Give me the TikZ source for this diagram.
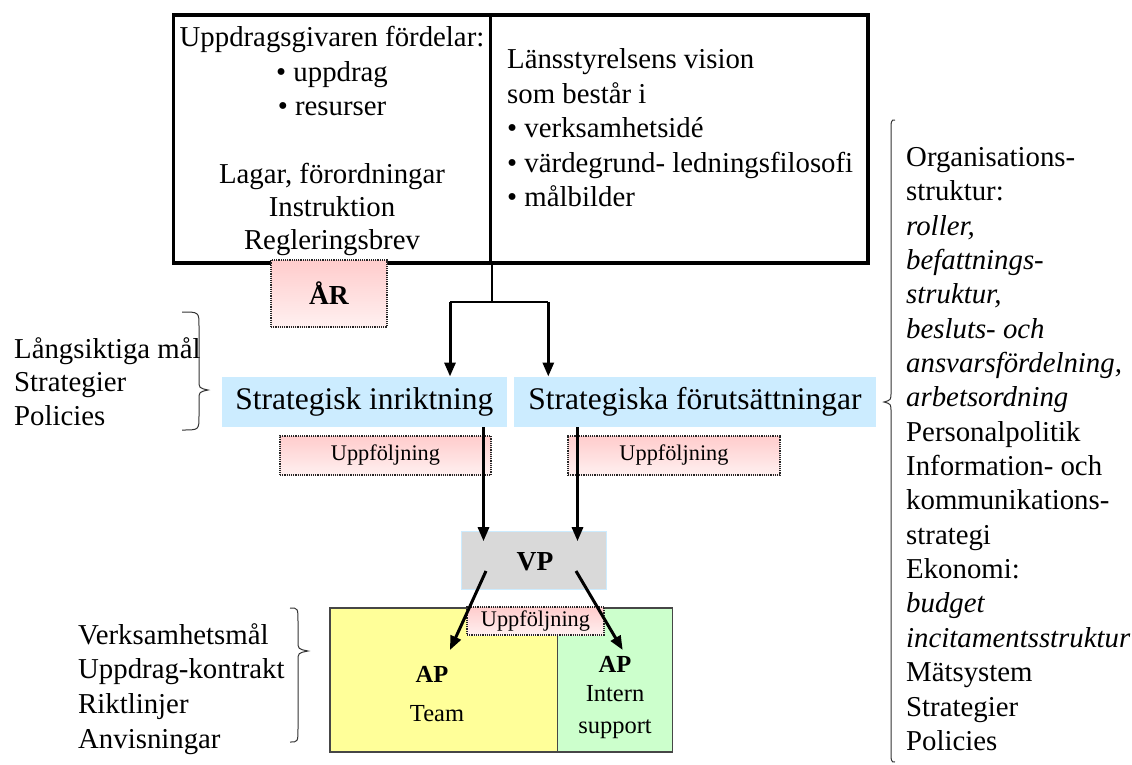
\documentclass[tikz,border=0pt]{standalone}
\usepackage{fontspec}
\setmainfont{Liberation Serif}
\usetikzlibrary{arrows.meta,calc}
\definecolor{skyb}{RGB}{204,236,255}
\definecolor{vpgray}{RGB}{217,217,217}
\definecolor{pinkA}{RGB}{255,204,204}
\definecolor{pinkB}{RGB}{255,240,240}
\definecolor{yel}{RGB}{255,255,153}
\definecolor{grn}{RGB}{204,255,204}
\definecolor{edge}{RGB}{70,70,70}
\newcommand\fmain{\fontsize{28.8}{34}\selectfont}
\newcommand\fstrat{\fontsize{31.5}{36}\selectfont}
\newcommand\fsmall{\fontsize{22.3}{26}\selectfont}
\newcommand\fbold{\fontsize{27.5}{32}\selectfont\bfseries}
\newcommand\fap{\fontsize{24.5}{32}\selectfont}
% #1 x of ends, #2 y top, #3 y bottom, #4 x of body, #5 x of tip, #6 y of tip
\newcommand\mybrace[6]{%
  \draw[bracestyle] (#1,#2) .. controls (#4,#2) and (#4,#2) .. (#4,#2+14)
    -- (#4,#6-10) .. controls (#4,#6-2) .. (#5,#6)
    .. controls (#4,#6+2) .. (#4,#6+10)
    -- (#4,#3-14) .. controls (#4,#3) and (#4,#3) .. (#1,#3);}
\begin{document}
\begin{tikzpicture}[x=1pt,y=-1pt,
  topbox/.style={draw=black,line width=3.5pt,inner sep=0pt},
  pinkbox/.style={draw=black!85,densely dotted,line width=1.2pt,top color=pinkA,bottom color=pinkB,inner sep=0pt},
  bluebox/.style={fill=skyb,inner sep=0pt},
  vpbox/.style={fill=vpgray,draw=skyb,line width=1pt,inner sep=0pt},
  ybox/.style={fill=yel,draw=edge,line width=1.2pt,inner sep=0pt},
  gbox/.style={fill=grn,draw=edge,line width=1.2pt,inner sep=0pt},
  arr/.style={line width=3pt,-{Triangle[length=14pt,width=11pt]}},
  link/.style={line width=2pt},
  bracestyle/.style={line width=1pt,draw=black!80},
  txt/.style={inner sep=0pt}
]
\useasboundingbox (0,0) rectangle (1132,764);

% top boxes
\node[topbox,minimum width=317.2pt,minimum height=248pt] (gv) at (332.1,139) {};
\node[topbox,minimum width=377.3pt,minimum height=248pt] (vis) at (679.35,139) {};
\node[txt,align=center,font=\fontsize{28.8}{34.5}\selectfont] (gvt1) at (332,71) {Uppdragsgivaren fördelar:\\ • uppdrag\\ • resurser};
\node[txt,align=center,font=\fontsize{28.8}{33}\selectfont] (gvt2) at (332,209) {Lagar, förordningar\\ Instruktion\\ Regleringsbrev};
\node[txt,align=left,anchor=west,font=\fontsize{28.8}{34.5}\selectfont] (vist) at (507,128) {Länsstyrelsens vision\\ som består i\\ • verksamhetsidé\\ • värdegrund- ledningsfilosofi\\ • målbilder};

% AR box
\node[pinkbox,minimum width=116pt,minimum height=67pt] (ar) at (329,293.5) {\fbold ÅR};

% strategic boxes
\node[bluebox,minimum width=284.7pt,minimum height=50.3pt] (si) at (364.35,401.85) {\fstrat Strategisk inriktning};
\node[bluebox,minimum width=362pt,minimum height=50.3pt] (sf) at (695,401.85) {\fstrat Strategiska förutsättningar};

% follow-up boxes
\node[pinkbox,minimum width=211pt,minimum height=39pt] (ua) at (385.5,455.5) {\fsmall Uppföljning};
\node[pinkbox,minimum width=212pt,minimum height=39pt] (ub) at (674,455.5) {\fsmall Uppföljning};

% VP
\node[vpbox,minimum width=144.3pt,minimum height=57.3pt] (vp) at (533.85,560.35) {};
\node[txt,font=\fbold] (vpt) at (535,562) {VP};

% bottom boxes
\node[ybox,minimum width=227.5pt,minimum height=144pt] (team) at (443.75,680) {};
\node[gbox,minimum width=115pt,minimum height=144pt] (sup) at (615,680) {};
\node[txt,font=\fap\bfseries] (ap1) at (432,674) {AP};
\node[txt,font=\fap] (tm) at (437,714) {Team};
\node[txt,font=\fap\bfseries] (ap2) at (615,664) {AP};
\node[txt,font=\fontsize{24.5}{32.5}\selectfont,align=center] (is) at (615,712) {Intern\\ support};
\node[pinkbox,minimum width=137pt,minimum height=28pt] (uc) at (535.5,621) {\fsmall Uppföljning};

% connectors
\coordinate (j) at ($(gv.south east)+(0,38.7)$);
\coordinate (jl) at (450,301.7);
\coordinate (jr) at (548.3,301.7);
\draw[link] (gv.south east) -- (j);
\draw[link] (jl) -- (jr);
\draw[arr] (jl) -- (jl |- si.north);
\draw[arr] (jr) -- (jr |- sf.north);

\coordinate (a1) at (483.5,427);
\coordinate (a2) at (577.5,427);
\draw[arr] (a1) -- ($(a1 |- vp.north)+(0,10)$);
\draw[arr] (a2) -- ($(a2 |- vp.north)+(0,10)$);

\coordinate (v1) at (486,571);
\coordinate (v2) at (576,571);
\coordinate (t1) at (450,650);
\coordinate (t2) at (622.7,650);
\draw[arr] (v1) -- (t1);
\draw[arr] (v2) -- (t2);

% left texts and braces
\node[txt,align=left,anchor=west,font=\fontsize{28.8}{33.5}\selectfont] (lt) at (14,381.5) {Långsiktiga mål\\ Strategier\\ Policies};
\mybrace{182}{312}{430}{199}{208}{390}

\node[txt,align=left,anchor=west,font=\fontsize{28.8}{34.7}\selectfont] (lb) at (78,689) {Verksamhetsmål\\ Uppdrag-kontrakt\\ Riktlinjer\\ Anvisningar};
\mybrace{290}{608}{742}{298}{308}{651}

% right text and brace
\node[txt,align=left,anchor=west,font=\fontsize{28.8}{34.35}\selectfont] (rt) at (906,449) {Organisations-\\ struktur:\\ \textit{roller,}\\ \textit{befattnings-}\\ \textit{struktur,}\\ \textit{besluts- och}\\ \textit{ansvarsfördelning,}\\ \textit{arbetsordning}\\ Personalpolitik\\ Information- och\\ kommunikations-\\ strategi\\ Ekonomi:\\ \textit{budget}\\ \textit{incitamentsstruktur}\\ Mätsystem\\ Strategier\\ Policies};
\mybrace{895}{120}{762}{891}{884}{402}
\end{tikzpicture}
\end{document}
